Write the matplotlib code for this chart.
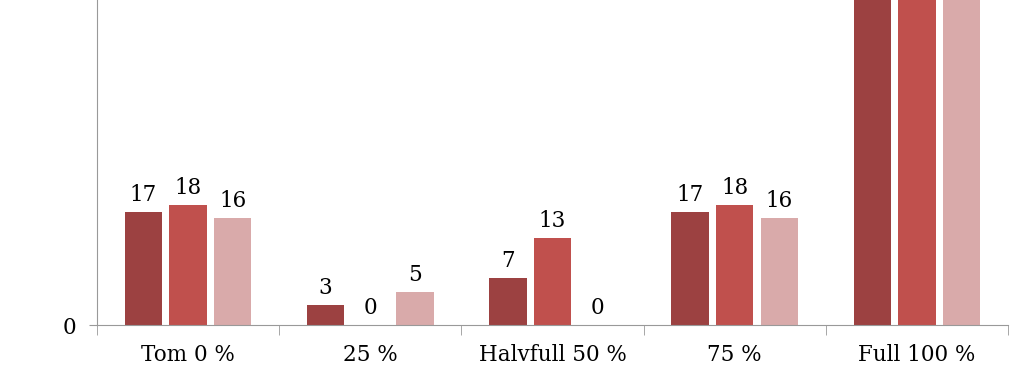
import numpy as np
import matplotlib.pyplot as plt

categories = ['Tom 0 %', '25 %', 'Halvfull 50 %', '75 %', 'Full 100 %']
serie1 = [17, 3, 7, 17, 56]
serie2 = [18, 0, 13, 18, 51]
serie3 = [16, 5, 0, 16, 63]
colors = ['#9C4141', '#C0504D', '#D9AAAA']

plt.rcParams['font.family'] = ['DejaVu Serif']

fig = plt.figure(figsize=(10.23, 3.66), dpi=100)
# axes taller than the figure: the top is cut off as in the original
ax = fig.add_axes([97/1023, 41/366, 911/1023, 400/366])

x = np.arange(len(categories))
w = 0.205
gap = 0.04
for i, (vals, c) in enumerate(zip([serie1, serie2, serie3], colors)):
    pos = x + (i - 1)*(w + gap)
    ax.bar(pos, vals, w, color=c, zorder=2)
    for p, v in zip(pos, vals):
        if v < 45:  # labels of the tall bars fall outside the picture
            ax.text(p, v + 0.9, str(v), ha='center', va='bottom', fontsize=15.5)

ax.set_xlim(-0.5, len(categories) - 0.5)
ax.set_ylim(0, 60)
ax.set_yticks([0, 50])
ax.set_yticklabels(['0', '50 %'], fontsize=15.5)
ax.set_xticks(x)
ax.set_xticklabels(categories, fontsize=15.5)
ax.set_xticks(np.arange(len(categories) + 1) - 0.5, minor=True)
ax.tick_params(axis='x', which='major', length=0, pad=14)
ax.tick_params(axis='x', which='minor', length=7, color='#999999')
ax.tick_params(axis='y', length=6, color='#999999', pad=9)

for s in ['top', 'right']:
    ax.spines[s].set_visible(False)
for s in ['left', 'bottom']:
    ax.spines[s].set_color('#999999')

fig.savefig('out.png', dpi=100)
